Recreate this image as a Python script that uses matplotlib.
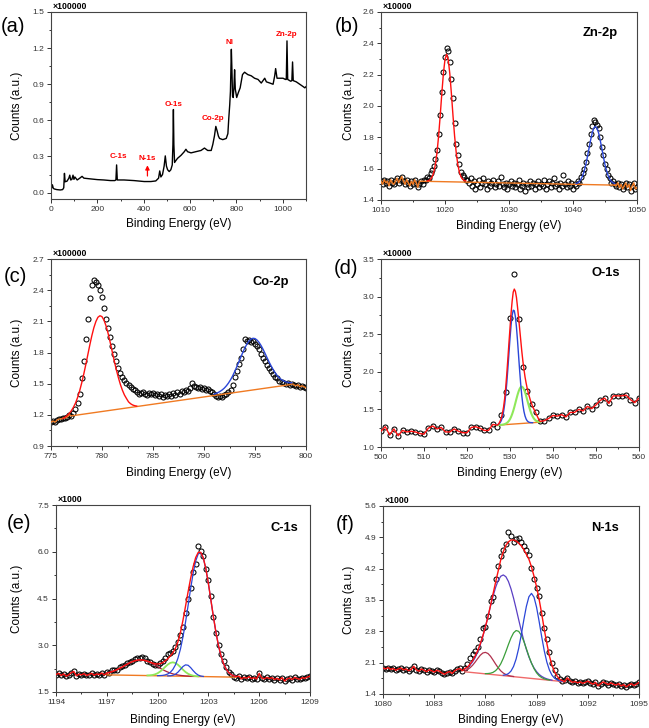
import numpy as np
import matplotlib.pyplot as plt
from matplotlib.ticker import MultipleLocator, FormatStrFormatter

plt.rcParams['font.family'] = ['Liberation Sans', 'DejaVu Sans']

RED = '#ff1010'
BLUE = '#2a46d8'
ORANGE = '#f07a22'

# ---------------- (a) survey, counts x100000
survey_ev = [0, 3, 6, 10, 15, 25, 40, 50, 55, 58, 61, 69, 77, 81, 85, 90, 95, 99, 103, 113,
             124, 134, 142, 170, 200, 228, 257, 275, 280, 283, 286, 315, 358, 402, 431, 452, 464, 469, 474, 481,
             488, 493, 498, 503, 510, 517, 523, 526, 528, 530, 533, 540, 546, 561, 575, 582, 589, 604, 625, 647,
             662, 676, 691, 698, 705, 711, 717, 722, 727, 741, 756, 763, 767, 771, 774, 778, 781, 783, 786, 789,
             792, 795, 801, 808, 816, 826, 835, 849, 864, 878, 893, 907, 922, 929, 944, 958, 965, 969, 975, 987,
             1001, 1011, 1015, 1018, 1021, 1034, 1039, 1042, 1045, 1058, 1073, 1088, 1095, 1100]
survey_counts = [0.06, 0.04, 0.065, 0.035, 0.03, 0.025, 0.022, 0.025, 0.04, 0.16,
                 0.09, 0.095, 0.12, 0.145, 0.105, 0.11, 0.145, 0.11, 0.13, 0.105,
                 0.12, 0.135, 0.12, 0.114, 0.108, 0.105, 0.10, 0.10, 0.105, 0.23,
                 0.105, 0.105, 0.10, 0.092, 0.092, 0.097, 0.12, 0.18, 0.13, 0.15,
                 0.22, 0.305, 0.22, 0.19, 0.175, 0.19, 0.23, 0.40, 0.69, 0.40,
                 0.25, 0.27, 0.285, 0.31, 0.34, 0.36, 0.34, 0.33, 0.34, 0.35,
                 0.37, 0.35, 0.35, 0.40, 0.47, 0.55, 0.51, 0.47, 0.45, 0.44,
                 0.45, 0.49, 0.62, 0.73, 0.84, 1.19, 0.98, 0.80, 0.79, 0.87,
                 1.02, 0.86, 0.79, 0.83, 0.87, 0.98, 1.0, 0.98, 0.97, 0.95,
                 0.94, 0.91, 0.95, 0.92, 0.91, 0.90, 0.97, 1.03, 0.95, 0.95,
                 0.95, 0.94, 0.94, 1.26, 0.94, 0.925, 0.93, 1.085, 0.93, 0.92,
                 0.90, 0.88, 0.87, 0.88]
survey_peaks = ['C-1s', 'N-1s', 'O-1s', 'Co-2p', 'Ni', 'Zn-2p']

# ---------------- (b) Zn 2p, counts x10000, 1010-1050 eV step 0.25
zn_counts = [
    1.52, 1.50, 1.53, 1.51, 1.52, 1.49, 1.53, 1.51, 1.50, 1.52, 1.54, 1.51, 1.53, 1.55,
    1.52, 1.50, 1.53, 1.51, 1.49, 1.52, 1.50, 1.53, 1.51, 1.48, 1.50, 1.52, 1.50, 1.53,
    1.53, 1.55, 1.54, 1.57, 1.59, 1.62, 1.66, 1.72, 1.82, 1.94, 2.09, 2.22, 2.31,
    2.37, 2.35, 2.28, 2.17, 2.05, 1.89, 1.76, 1.69, 1.63, 1.58, 1.56, 1.55, 1.53,
    1.53, 1.51, 1.54, 1.49, 1.52, 1.47, 1.50, 1.53, 1.48, 1.51, 1.54, 1.50, 1.47, 1.52,
    1.49, 1.51, 1.53, 1.48, 1.50, 1.52, 1.49, 1.55, 1.50, 1.48, 1.51, 1.47, 1.50, 1.52,
    1.49, 1.51, 1.48, 1.50, 1.53, 1.47, 1.49, 1.51, 1.46, 1.50, 1.48, 1.52, 1.49, 1.51,
    1.47, 1.50, 1.52, 1.48, 1.50, 1.49, 1.53, 1.47, 1.50, 1.52, 1.48, 1.51, 1.54, 1.49,
    1.50, 1.47, 1.51, 1.49, 1.56, 1.50, 1.48, 1.52, 1.49, 1.51, 1.47, 1.50,
    1.49, 1.52, 1.51, 1.55, 1.57, 1.60, 1.64, 1.70, 1.76, 1.82, 1.87, 1.91, 1.90,
    1.88, 1.86, 1.80, 1.74, 1.69, 1.63, 1.60, 1.56, 1.54, 1.51, 1.52, 1.50,
    1.49, 1.51, 1.48, 1.50, 1.47, 1.49, 1.51, 1.48, 1.50, 1.46, 1.49, 1.51, 1.47, 1.48]
zn_fit1 = [1.522, 1.525, 1.533, 1.548, 1.577, 1.627, 1.703, 1.808, 1.938, 2.079, 2.207, 2.298, 2.33,
           2.298, 2.207, 2.079, 1.938, 1.808, 1.703, 1.627, 1.577, 1.548, 1.533, 1.525, 1.522]
zn_fit2 = [1.505, 1.510, 1.518, 1.533, 1.554, 1.585, 1.625, 1.675, 1.729, 1.782, 1.828, 1.859, 1.87,
           1.859, 1.828, 1.782, 1.729, 1.675, 1.625, 1.585, 1.554, 1.533, 1.518, 1.510, 1.505]
zn_base_ev = [1016.0, 1046.5]
zn_base = [1.52, 1.495]

# ---------------- (c) Co 2p, counts x100000, 775-800 eV step 0.2
co_counts = [
    1.13, 1.14, 1.13, 1.15, 1.16, 1.16, 1.17, 1.17, 1.18, 1.20,
    1.19, 1.22, 1.26, 1.31, 1.40, 1.55, 1.72, 1.93, 2.12, 2.32,
    2.45, 2.50, 2.48, 2.45, 2.40, 2.33, 2.23, 2.12, 2.04, 1.95,
    1.86, 1.79, 1.72, 1.65, 1.60, 1.56, 1.54, 1.51, 1.49, 1.47,
    1.45, 1.44, 1.42, 1.40, 1.41, 1.42, 1.40, 1.39, 1.41, 1.40,
    1.41, 1.39, 1.40, 1.38, 1.40, 1.37, 1.39, 1.38, 1.40, 1.38,
    1.41, 1.39, 1.42, 1.40, 1.43, 1.42, 1.44, 1.43, 1.46, 1.51,
    1.48, 1.47, 1.46, 1.47, 1.45, 1.46, 1.44, 1.45, 1.43, 1.42,
    1.40, 1.38, 1.37, 1.38, 1.37, 1.39, 1.40, 1.42, 1.44, 1.49,
    1.56, 1.62, 1.69, 1.75, 1.83, 1.93, 1.91, 1.92, 1.90, 1.91,
    1.88, 1.86, 1.83, 1.79, 1.75, 1.72, 1.68, 1.65, 1.62, 1.59,
    1.56, 1.55, 1.53, 1.52, 1.51, 1.50, 1.51, 1.49, 1.50, 1.49,
    1.48, 1.49, 1.47, 1.48, 1.47, 1.46]
co_fit1 = [1.165, 1.180, 1.195, 1.215, 1.240, 1.273, 1.313, 1.365, 1.428, 1.503,
           1.587, 1.678, 1.774, 1.870, 1.960, 2.038, 2.098, 2.139, 2.154, 2.145,
           2.110, 2.055, 1.983, 1.899, 1.809, 1.720, 1.636, 1.560, 1.493, 1.437,
           1.391, 1.357, 1.325, 1.307, 1.295, 1.288, 1.284]
co_fit2 = [1.400, 1.407, 1.416, 1.427, 1.441, 1.458, 1.480, 1.506, 1.537, 1.573,
           1.614, 1.659, 1.706, 1.753, 1.800, 1.843, 1.880, 1.909, 1.928, 1.937,
           1.934, 1.920, 1.897, 1.866, 1.829, 1.788, 1.746, 1.705, 1.667, 1.632,
           1.601, 1.575, 1.554, 1.538, 1.527, 1.518, 1.513, 1.510, 1.509]
co_base_ev = [777.0, 798.4]
co_base = [1.19, 1.49]

# ---------------- (d) O 1s, counts x10000, 500-560 eV step 1
o_counts = [1.21, 1.27, 1.16, 1.24, 1.15, 1.22, 1.20, 1.21, 1.20, 1.18,
            1.17, 1.25, 1.28, 1.24, 1.26, 1.20, 1.20, 1.24, 1.21, 1.19,
            1.19, 1.26, 1.27, 1.25, 1.22, 1.22, 1.30, 1.27, 1.43, 1.73,
            2.71, 3.30, 2.70, 2.06, 1.74, 1.57, 1.46, 1.34, 1.35, 1.38,
            1.42, 1.41, 1.43, 1.40, 1.46, 1.46, 1.50, 1.48, 1.54, 1.51,
            1.56, 1.62, 1.65, 1.58, 1.68, 1.68, 1.68, 1.69, 1.63, 1.59, 1.65]
# fit components on 527-537 eV, step 0.25
o_sum = [1.29, 1.30, 1.32, 1.35, 1.39, 1.45, 1.53, 1.64, 1.79, 1.97,
         2.17, 2.38, 2.58, 2.78, 2.94, 3.06, 3.10, 3.07, 2.99, 2.86,
         2.72, 2.57, 2.42, 2.27, 2.14, 2.03, 1.93, 1.85, 1.78, 1.72,
         1.67, 1.62, 1.58, 1.54, 1.51, 1.48, 1.45, 1.42, 1.39, 1.36, 1.34]
o_peak1 = [1.294, 1.300, 1.310, 1.327, 1.355, 1.400, 1.467, 1.563, 1.691, 1.852,
           2.040, 2.243, 2.444, 2.621, 2.752, 2.819, 2.812, 2.734, 2.594, 2.413,
           2.211, 2.012, 1.830, 1.678, 1.559, 1.471, 1.411, 1.372, 1.348, 1.335,
           1.328, 1.325, 1.324, 1.323]
o_peak2 = [1.290, 1.291, 1.292, 1.294, 1.295, 1.297, 1.300, 1.304, 1.310, 1.319,
           1.331, 1.348, 1.370, 1.400, 1.437, 1.480, 1.530, 1.585, 1.640, 1.693,
           1.739, 1.775, 1.797, 1.803, 1.792, 1.767, 1.728, 1.681, 1.628, 1.575,
           1.524, 1.478, 1.439, 1.408, 1.383, 1.365, 1.352, 1.343, 1.338, 1.335, 1.333]
o_base_ev = [527.0, 537.0]
o_base = [1.29, 1.33]

# ---------------- (e) C 1s, counts x1000, 1194-1209 eV step 0.15
c_counts = [
    2.06, 2.10, 2.03, 2.08, 2.01, 2.05, 2.12, 2.16, 2.02, 2.07,
    2.05, 2.09, 2.03, 2.06, 2.10, 2.04, 2.08, 2.06, 2.11, 2.05,
    2.15, 2.10, 2.19, 2.22, 2.20, 2.29, 2.33, 2.36, 2.42, 2.45,
    2.49, 2.55, 2.58, 2.60, 2.61, 2.58, 2.50, 2.47, 2.41, 2.38,
    2.36, 2.44, 2.48, 2.58, 2.71, 2.76, 2.80, 2.95, 3.12, 3.33,
    3.60, 4.02, 4.50, 4.83, 5.35, 5.60, 6.18, 6.02, 5.85, 5.45,
    5.10, 4.58, 3.92, 3.38, 3.02, 2.72, 2.48, 2.30, 2.14, 2.08,
    1.98, 1.95, 2.01, 1.92, 1.97, 1.94, 1.99, 1.93, 1.96, 1.92,
    2.10, 1.95, 1.92, 1.97, 1.93, 1.96, 1.90, 1.94, 1.89, 1.96,
    1.85, 1.92, 1.95, 1.90, 1.97, 1.93, 1.91, 1.96, 1.94, 1.98, 2.01]
# fit components on 1197.0-1204.65 eV, step 0.15
c_sum = [2.107, 2.127, 2.151, 2.182, 2.217, 2.257, 2.300, 2.346, 2.391, 2.435,
         2.473, 2.502, 2.522, 2.530, 2.527, 2.511, 2.489, 2.460, 2.429, 2.405,
         2.396, 2.407, 2.441, 2.498, 2.570, 2.654, 2.756, 2.897, 3.108, 3.412,
         3.806, 4.255, 4.714, 5.144, 5.523, 5.815, 5.981, 5.981, 5.801, 5.452,
         4.979, 4.441, 3.898, 3.400, 2.978, 2.647, 2.402, 2.234, 2.124, 2.057,
         2.018, 1.996]
c_broad = [2.107, 2.127, 2.151, 2.182, 2.217, 2.257, 2.300, 2.346, 2.391, 2.435,
           2.473, 2.502, 2.522, 2.530, 2.527, 2.511, 2.485, 2.450, 2.407, 2.361,
           2.312, 2.264, 2.218, 2.177, 2.140, 2.109, 2.082, 2.062, 2.046, 2.033,
           2.024, 2.016, 2.011, 2.006, 2.004]
c_green = [2.031, 2.036, 2.046, 2.067, 2.102, 2.156, 2.226, 2.306, 2.380, 2.434,
           2.452, 2.431, 2.375, 2.297, 2.215, 2.141, 2.085, 2.046, 2.023, 2.010, 2.002]
c_small = [2.017, 2.021, 2.035, 2.070, 2.135, 2.226, 2.318, 2.371, 2.358, 2.284,
           2.186, 2.100, 2.042, 2.013, 2.000]
c_main = [2.024, 2.027, 2.033, 2.049, 2.078, 2.132, 2.223, 2.367, 2.582, 2.880,
          3.270, 3.742, 4.272, 4.814, 5.313, 5.705, 5.933, 5.965, 5.796, 5.452,
          4.979, 4.441, 3.898, 3.400, 2.978, 2.647, 2.402, 2.234, 2.124, 2.057,
          2.018, 1.996]
c_base_ev = [1197.0, 1204.65]
c_base = [2.05, 1.976]

# ---------------- (f) N 1s, counts x1000, 1080-1095 eV step 0.15
n_counts = [
    1.98, 1.96, 1.99, 1.95, 1.97, 1.93, 1.96, 1.98, 1.94, 1.96,
    1.92, 1.95, 2.02, 1.94, 1.91, 1.96, 1.93, 1.90, 1.94, 1.92,
    1.89, 1.93, 1.91, 1.87, 1.84, 1.88, 1.90, 1.86, 1.92, 1.95,
    1.97, 1.92,
    1.98, 2.06, 2.20, 2.30, 2.36, 2.44, 2.62, 2.88, 2.90, 3.15,
    3.48, 3.56, 3.96, 4.27, 4.48, 4.62, 4.76, 5.02, 4.93, 4.80,
    4.86, 4.88, 4.79, 4.70, 4.62, 4.50, 4.22, 3.97, 3.77, 3.58,
    3.20, 2.88, 2.62, 2.33, 2.10, 1.93, 1.80, 1.74, 1.69, 1.72,
    1.76, 1.70, 1.66, 1.68, 1.65, 1.67, 1.64, 1.66, 1.69, 1.65,
    1.62, 1.66, 1.58, 1.63, 1.67, 1.64, 1.61, 1.65, 1.62, 1.60,
    1.63, 1.58, 1.61, 1.56, 1.60, 1.63, 1.59, 1.62, 1.66]
# fit components on 1084.8-1090.65 eV, step 0.15
n_sum = [1.97, 2.00, 2.07, 2.15, 2.25, 2.37, 2.52, 2.70, 2.90, 3.12,
         3.38, 3.64, 3.90, 4.15, 4.40, 4.58, 4.72, 4.80, 4.84, 4.84,
         4.82, 4.77, 4.71, 4.63, 4.52, 4.41, 4.24, 4.03, 3.79, 3.51,
         3.19, 2.84, 2.53, 2.25, 2.04, 1.90, 1.80, 1.73, 1.70, 1.68]
n_small = [1.926, 1.948, 1.986, 2.042, 2.113, 2.192, 2.266, 2.316, 2.330, 2.305,
           2.243, 2.158, 2.068, 1.985, 1.917, 1.868, 1.835, 1.813, 1.799, 1.791]
n_purple = [1.964, 1.996, 2.047, 2.118, 2.215, 2.341, 2.500, 2.686, 2.899, 3.129,
            3.364, 3.587, 3.784, 3.936, 4.031, 4.060, 4.020, 3.913, 3.749, 3.542,
            3.307, 3.060, 2.819, 2.595, 2.397, 2.227, 2.090, 1.981, 1.898, 1.836,
            1.793, 1.761, 1.738, 1.722, 1.709]
n_green = [1.855, 1.857, 1.865, 1.884, 1.922, 1.984, 2.075, 2.199, 2.348, 2.507,
           2.654, 2.766, 2.818, 2.800, 2.715, 2.578, 2.412, 2.242, 2.090, 1.965,
           1.872, 1.807, 1.766, 1.739, 1.722, 1.712]
n_blue = [1.820, 1.830, 1.856, 1.912, 2.016, 2.182, 2.420, 2.721, 3.053, 3.357,
          3.573, 3.648, 3.562, 3.334, 3.018, 2.676, 2.363, 2.113, 1.936, 1.821,
          1.753, 1.715, 1.695, 1.683]
n_base_ev = [1084.8, 1090.65]
n_base = [1.896, 1.673]


def frame(ax, xlim, ylim, xstep, ystep, mult, xlab_y, ylab_x):
    ax.set_xlim(*xlim)
    ax.set_ylim(*ylim)
    ax.xaxis.set_major_locator(MultipleLocator(xstep))
    ax.xaxis.set_minor_locator(MultipleLocator(xstep / 2))
    ax.yaxis.set_major_locator(MultipleLocator(ystep))
    ax.yaxis.set_minor_locator(MultipleLocator(ystep / 2))
    ax.yaxis.set_major_formatter(FormatStrFormatter('%.1f'))
    ax.tick_params(which='both', direction='out', labelsize=6, colors='#333333', width=0.7)
    ax.tick_params(which='major', length=3, pad=2)
    ax.tick_params(which='minor', length=1.6)
    for sp in ax.spines.values():
        sp.set_linewidth(0.8)
        sp.set_color('#444444')
    ax.set_xlabel('Binding Energy (eV)', fontsize=8.5)
    ax.set_ylabel('Counts (a.u.)', fontsize=8.5)
    ax.xaxis.set_label_coords(0.5, xlab_y)
    ax.yaxis.set_label_coords(ylab_x, 0.5)
    ax.text(0.005, 1.005, mult, transform=ax.transAxes, fontsize=6.3,
            fontweight='bold', ha='left', va='bottom')


def circles(ax, x, y):
    ax.plot(x, y, 'o', ms=3.6, mfc='none', mec='black', mew=0.75, zorder=2)


W, H = 649, 728
fig = plt.figure(figsize=(W / 100, H / 100), dpi=100)


def box(l, t, r, b):
    return fig.add_axes([l / W, 1 - b / H, (r - l) / W, (b - t) / H])


# (a)
ax = box(51, 12, 306, 199)
ax.plot(survey_ev, survey_counts, color='black', lw=1.0)
frame(ax, (0, 1100), (-0.053, 1.5), 200, 0.3, '×100000', -0.104, -0.110)
for name, px, py in zip(survey_peaks, [290, 416, 529, 700, 772, 1017],
                        [0.30, 0.285, 0.735, 0.616, 1.25, 1.315]):
    ax.text(px, py, name, color='red', fontsize=5.8, fontweight='bold', ha='center', va='center')
ax.annotate('', xy=(416, 0.25), xytext=(416, 0.115),
            arrowprops=dict(arrowstyle='-|>', color='red', lw=0.9, mutation_scale=6))

# (b)
ax = box(381, 12, 637, 200)
zx = np.linspace(1010, 1050, len(zn_counts))
zy = np.array(zn_counts)
circles(ax, zx, zy)
left = zx < 1016
right = zx >= 1046.5
ax.plot(np.concatenate([zx[left], zn_base_ev, zx[right]]),
        np.concatenate([zy[left], zn_base, zy[right]]), color=ORANGE, lw=1.0, zorder=3)
ax.plot(np.linspace(1017.25, 1023.25, len(zn_fit1)), zn_fit1, color=RED, lw=1.0, zorder=4)
ax.plot(np.linspace(1040.5, 1046.5, len(zn_fit2)), zn_fit2, color=BLUE, lw=1.0, zorder=4)
frame(ax, (1010, 1050), (1.4, 2.6), 10, 0.2, '×10000', -0.104, -0.102)
ax.text(0.855, 0.888, 'Zn-2p', transform=ax.transAxes, fontsize=9.3, fontweight='bold', ha='center', va='center')

# (c)
ax = box(51, 259, 306, 446)
cx = np.linspace(775, 800, len(co_counts))
cy = np.array(co_counts)
circles(ax, cx, cy)
left = cx <= 777.0
right = cx > 798.4
ax.plot(np.concatenate([cx[left], co_base_ev[1:], cx[right]]),
        np.concatenate([cy[left], co_base[1:], cy[right]]), color=ORANGE, lw=1.0, zorder=3)
ax.plot(np.linspace(776.2, 783.4, len(co_fit1)), co_fit1, color=RED, lw=1.0, zorder=4)
ax.plot(np.linspace(791.0, 798.6, len(co_fit2)), co_fit2, color=BLUE, lw=1.0, zorder=4)
frame(ax, (775, 800), (0.9, 2.7), 5, 0.3, '×100000', -0.113, -0.110)
ax.text(0.86, 0.877, 'Co-2p', transform=ax.transAxes, fontsize=9.3, fontweight='bold', ha='center', va='center')

# (d)
ax = box(381, 259, 639, 447)
ox = np.linspace(500, 560, len(o_counts))
oy = np.array(o_counts)
circles(ax, ox, oy)
og = np.linspace(527, 537, len(o_sum))
ax.plot(o_base_ev, o_base, color=ORANGE, lw=1.0, zorder=3)
ax.plot(og, o_peak2, color='#8fe85a', lw=1.5, zorder=3)
ax.plot(og[:len(o_peak1)], o_peak1, color=BLUE, lw=1.0, zorder=4)
ax.plot(np.concatenate([ox[ox < 527], og, ox[ox > 537]]),
        np.concatenate([oy[ox < 527], o_sum, oy[ox > 537]]), color=RED, lw=1.0, zorder=5)
frame(ax, (500, 560), (1.0, 3.5), 10, 0.5, '×10000', -0.109, -0.101)
ax.text(0.872, 0.924, 'O-1s', transform=ax.transAxes, fontsize=9.3, fontweight='bold', ha='center', va='center')

# (e)
ax = box(56, 505, 310, 692)
ex = np.linspace(1194, 1209, len(c_counts))
ey = np.array(c_counts)
circles(ax, ex, ey)
eg = np.linspace(1197.0, 1204.65, len(c_sum))
ax.plot(c_base_ev, c_base, color=ORANGE, lw=1.0, zorder=3)
ax.plot(eg[:len(c_broad)], c_broad, color='#a8203c', lw=0.9, zorder=3)
ax.plot(eg[16:16 + len(c_green)], c_green, color='#8fe85a', lw=1.3, zorder=3)
ax.plot(eg[24:24 + len(c_small)], c_small, color=BLUE, lw=0.9, zorder=3)
ax.plot(eg[20:20 + len(c_main)], c_main, color=BLUE, lw=0.9, zorder=3)
ax.plot(np.concatenate([ex[:20], eg, ex[72:]]),
        np.concatenate([ey[:20], c_sum, ey[72:]]), color=RED, lw=1.0, zorder=5)
frame(ax, (1194, 1209), (1.5, 7.5), 3, 1.5, '×1000', -0.115, -0.130)
ax.text(0.898, 0.877, 'C-1s', transform=ax.transAxes, fontsize=9.3, fontweight='bold', ha='center', va='center')

# (f)
ax = box(383, 506, 639, 694)
nx = np.linspace(1080, 1095, len(n_counts))
ny = np.array(n_counts)
circles(ax, nx, ny)
ng = np.linspace(1084.8, 1090.65, len(n_sum))
ax.plot(n_base_ev, n_base, color='#f06a6a', lw=1.0, zorder=3)
ax.plot(ng[:len(n_small)], n_small, color='#b0304c', lw=0.9, zorder=3)
ax.plot(ng[:len(n_purple)], n_purple, color='#5a3fc4', lw=0.9, zorder=3)
ax.plot(ng[8:8 + len(n_green)], n_green, color='#3a9e3a', lw=0.9, zorder=3)
ax.plot(ng[15:15 + len(n_blue)], n_blue, color=BLUE, lw=0.9, zorder=3)
ax.plot(np.concatenate([nx[:32], ng, nx[72:]]),
        np.concatenate([ny[:32], n_sum, ny[72:]]), color=RED, lw=1.0, zorder=5)
frame(ax, (1080, 1095), (1.4, 5.6), 3, 0.7, '×1000', -0.109, -0.109)
ax.text(0.867, 0.883, 'N-1s', transform=ax.transAxes, fontsize=9.3, fontweight='bold', ha='center', va='center')

for lab, px, py in [('(a)', 12.5, 26.7), ('(b)', 346.5, 26.5), ('(c)', 15, 276),
                    ('(d)', 346, 268.5), ('(e)', 19.5, 523.5), ('(f)', 345, 524.5)]:
    fig.text(px / W, 1 - py / H, lab, fontsize=14.5, ha='center', va='center')

fig.savefig('out.png', dpi=100)
